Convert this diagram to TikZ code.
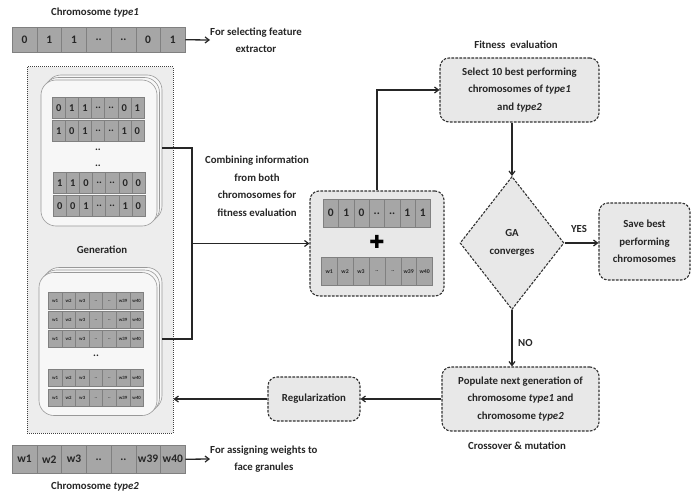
\documentclass[tikz,border=0pt]{standalone}
\usepackage{fontspec}
\setmainfont{Carlito}
\newfontfamily\djv{DejaVu Sans}
\usetikzlibrary{arrows.meta,shapes.geometric,calc}
\newcommand\dd{..}
\newcommand\cellrow[7]{%
  \foreach \t [count=\i] in {#7}{%
    \node[cell, minimum width=#4pt, minimum height=#5pt, font=#6, anchor=north west] (#1-\i) at ({#2+(\i-1)*#4}, #3) {\t};
  }}
\begin{document}
\begin{tikzpicture}[x=1pt,y=-1pt,
  every node/.style={font=\bfseries\fontsize{10.8}{17.5}\selectfont, text=black!85},
  cell/.style={draw=black!50, fill=black!35, inner sep=0pt, line width=0.5pt},
  dbox/.style={draw=black!80, fill=black!9, dash pattern=on 2.6pt off 1.4pt, line width=1.1pt, rounded corners=9pt, align=center, inner sep=0pt},
  stackbox/.style={draw=black!40, fill=black!3, line width=0.6pt, rounded corners=15pt, inner sep=0pt},
  conn/.style={draw=black!85, line width=1.3pt},
  arr/.style={conn, -{Straight Barb[length=4pt,width=6pt,line width=1.2pt]}},
  lbl/.style={align=center, inner sep=0pt}]
\useasboundingbox (0,0) rectangle (696,495);

% ---- Chromosome type1 ----
\node[lbl] (t1title) at (95,13) {Chromosome \textit{type1}};
\cellrow{ca}{12}{27}{24.7}{25}{\bfseries\fontsize{11.5}{12}\selectfont}{0,1,1,\dd,\dd,0,1}
\node[lbl, anchor=west] (t1note) at (210,40) {For selecting feature\\extractor};
\draw[arr] (ca-7.east) -- (t1note.west);

% ---- Generation box ----
\node[draw=black!75, fill=black!7, densely dotted, line width=1pt, minimum width=146pt, minimum height=366pt, inner sep=0pt] (gen) at (100,250) {};

% upper stack
\node[stackbox, minimum width=116pt, minimum height=146pt] (us3) at (104,148) {};
\node[stackbox, minimum width=116pt, minimum height=146pt] (us2) at (101.5,150.5) {};
\node[stackbox, minimum width=116pt, minimum height=146pt] (us1) at (99,153) {};
\cellrow{ua}{52}{97}{13.1}{21}{\bfseries\fontsize{10.5}{11}\selectfont}{0,1,1,\dd,\dd,0,1}
\cellrow{ub}{52}{120}{13.1}{21}{\bfseries\fontsize{10.5}{11}\selectfont}{1,0,1,\dd,\dd,1,0}
\node[lbl] (ud1) at (98,150) {..};
\node[lbl] (ud2) at (98,166) {..};
\cellrow{uc}{53}{172}{13.1}{21}{\bfseries\fontsize{10.5}{11}\selectfont}{1,1,0,\dd,\dd,0,0}
\cellrow{ud}{53}{195}{13.1}{21}{\bfseries\fontsize{10.5}{11}\selectfont}{0,0,1,\dd,\dd,1,0}

\node[lbl] (genlabel) at (102,250) {Generation};

% lower stack
\node[stackbox, minimum width=118pt, minimum height=143pt] (ls3) at (103,339) {};
\node[stackbox, minimum width=118pt, minimum height=143pt] (ls2) at (100.5,341.5) {};
\node[stackbox, minimum width=118pt, minimum height=143pt] (ls1) at (98,344) {};
\cellrow{la}{48}{292}{13.6}{17}{\bfseries\fontsize{4.8}{5}\selectfont}{w1,w2,w3,\dd,\dd,w39,w40}
\cellrow{lb}{48}{311}{13.6}{17}{\bfseries\fontsize{4.8}{5}\selectfont}{w1,w2,w3,\dd,\dd,w39,w40}
\cellrow{lc}{48}{330}{13.6}{17}{\bfseries\fontsize{4.8}{5}\selectfont}{w1,w2,w3,\dd,\dd,w39,w40}
\node[lbl] (ld1) at (96,356) {..};
\cellrow{ld}{48}{369}{13.6}{17}{\bfseries\fontsize{4.8}{5}\selectfont}{w1,w2,w3,\dd,\dd,w39,w40}
\cellrow{le}{48}{389}{13.6}{17}{\bfseries\fontsize{4.8}{5}\selectfont}{w1,w2,w3,\dd,\dd,w39,w40}

% ---- Chromosome type2 ----
\cellrow{cb}{12}{445}{24.7}{28}{\bfseries\fontsize{11.5}{12}\selectfont}{w1,w2,w3,\dd,\dd,w39,w40}
\node[lbl] (t2title) at (95,487) {Chromosome \textit{type2}};
\node[lbl, anchor=west] (t2note) at (210,459) {For assigning weights to\\face granules};
\draw[arr] (cb-7.east) -- (t2note.west);

% ---- Combined box ----
\node[dbox, minimum width=134pt, minimum height=105pt] (comb) at (377,243.5) {};
\cellrow{ma}{323}{199}{15.3}{28}{\bfseries\fontsize{11.5}{12}\selectfont}{0,1,0,\dd,\dd,1,1}
\node[lbl, font=\djv\fontsize{18}{18}\selectfont, text=black] (plus) at (377,242) {✚};
\cellrow{mb}{321}{257}{15.9}{28}{\bfseries\fontsize{5.8}{6}\selectfont}{w1,w2,w3,\dd,\dd,w39,w40}

\node[lbl] (combtext) at (257,186) {Combining information\\from both\\chromosomes for\\fitness evaluation};

% junction connectors
\coordinate (jx) at (192,0);
\draw[conn] (us3.east) -- (us3.east -| jx) -- (ls3.east -| jx) -- (ls3.east);
\draw[arr] (jx |- comb.west) -- (comb.west);

% ---- right side ----
\node[lbl] (fittitle) at (516,45) {Fitness\ \ evaluation};
\node[dbox, minimum width=159pt, minimum height=64pt] (fit) at (519.5,90) {Select 10 best performing\\chromosomes of \textit{type1}\\and \textit{type2}};
\draw[arr] (comb.north) |- (fit.west);

\node[diamond, draw=black!80, fill=black!9, dash pattern=on 2.6pt off 1.4pt, line width=1.1pt, aspect=0.7, minimum width=104pt, minimum height=133pt, inner sep=0pt, align=center] (ga) at (512,243) {GA\\converges};
\draw[arr] (ga.north |- fit.south) -- (ga.north);

\node[dbox, minimum width=91pt, minimum height=77pt] (save) at (644.5,241.5) {Save best\\performing\\chromosomes};
\draw[arr] (ga.east) -- (ga.east -| save.west);
\node[lbl] (yes) at (579,229) {YES};

\node[dbox, minimum width=157pt, minimum height=64pt] (pop) at (520.5,399) {Populate next generation of\\chromosome \textit{type1} and\\chromosome \textit{type2}};
\draw[arr] (ga.south) -- (ga.south |- pop.north);
\node[lbl, anchor=west] (no) at (518,343) {NO};
\node[lbl] (cross) at (517,446) {Crossover \& mutation};

\node[dbox, minimum width=92pt, minimum height=44pt] (reg) at (314,399) {Regularization};
\draw[arr] (pop.west |- reg.east) -- (reg.east);
\draw[arr] (reg.west) -- (gen.east |- reg.west);
\end{tikzpicture}
\end{document}
